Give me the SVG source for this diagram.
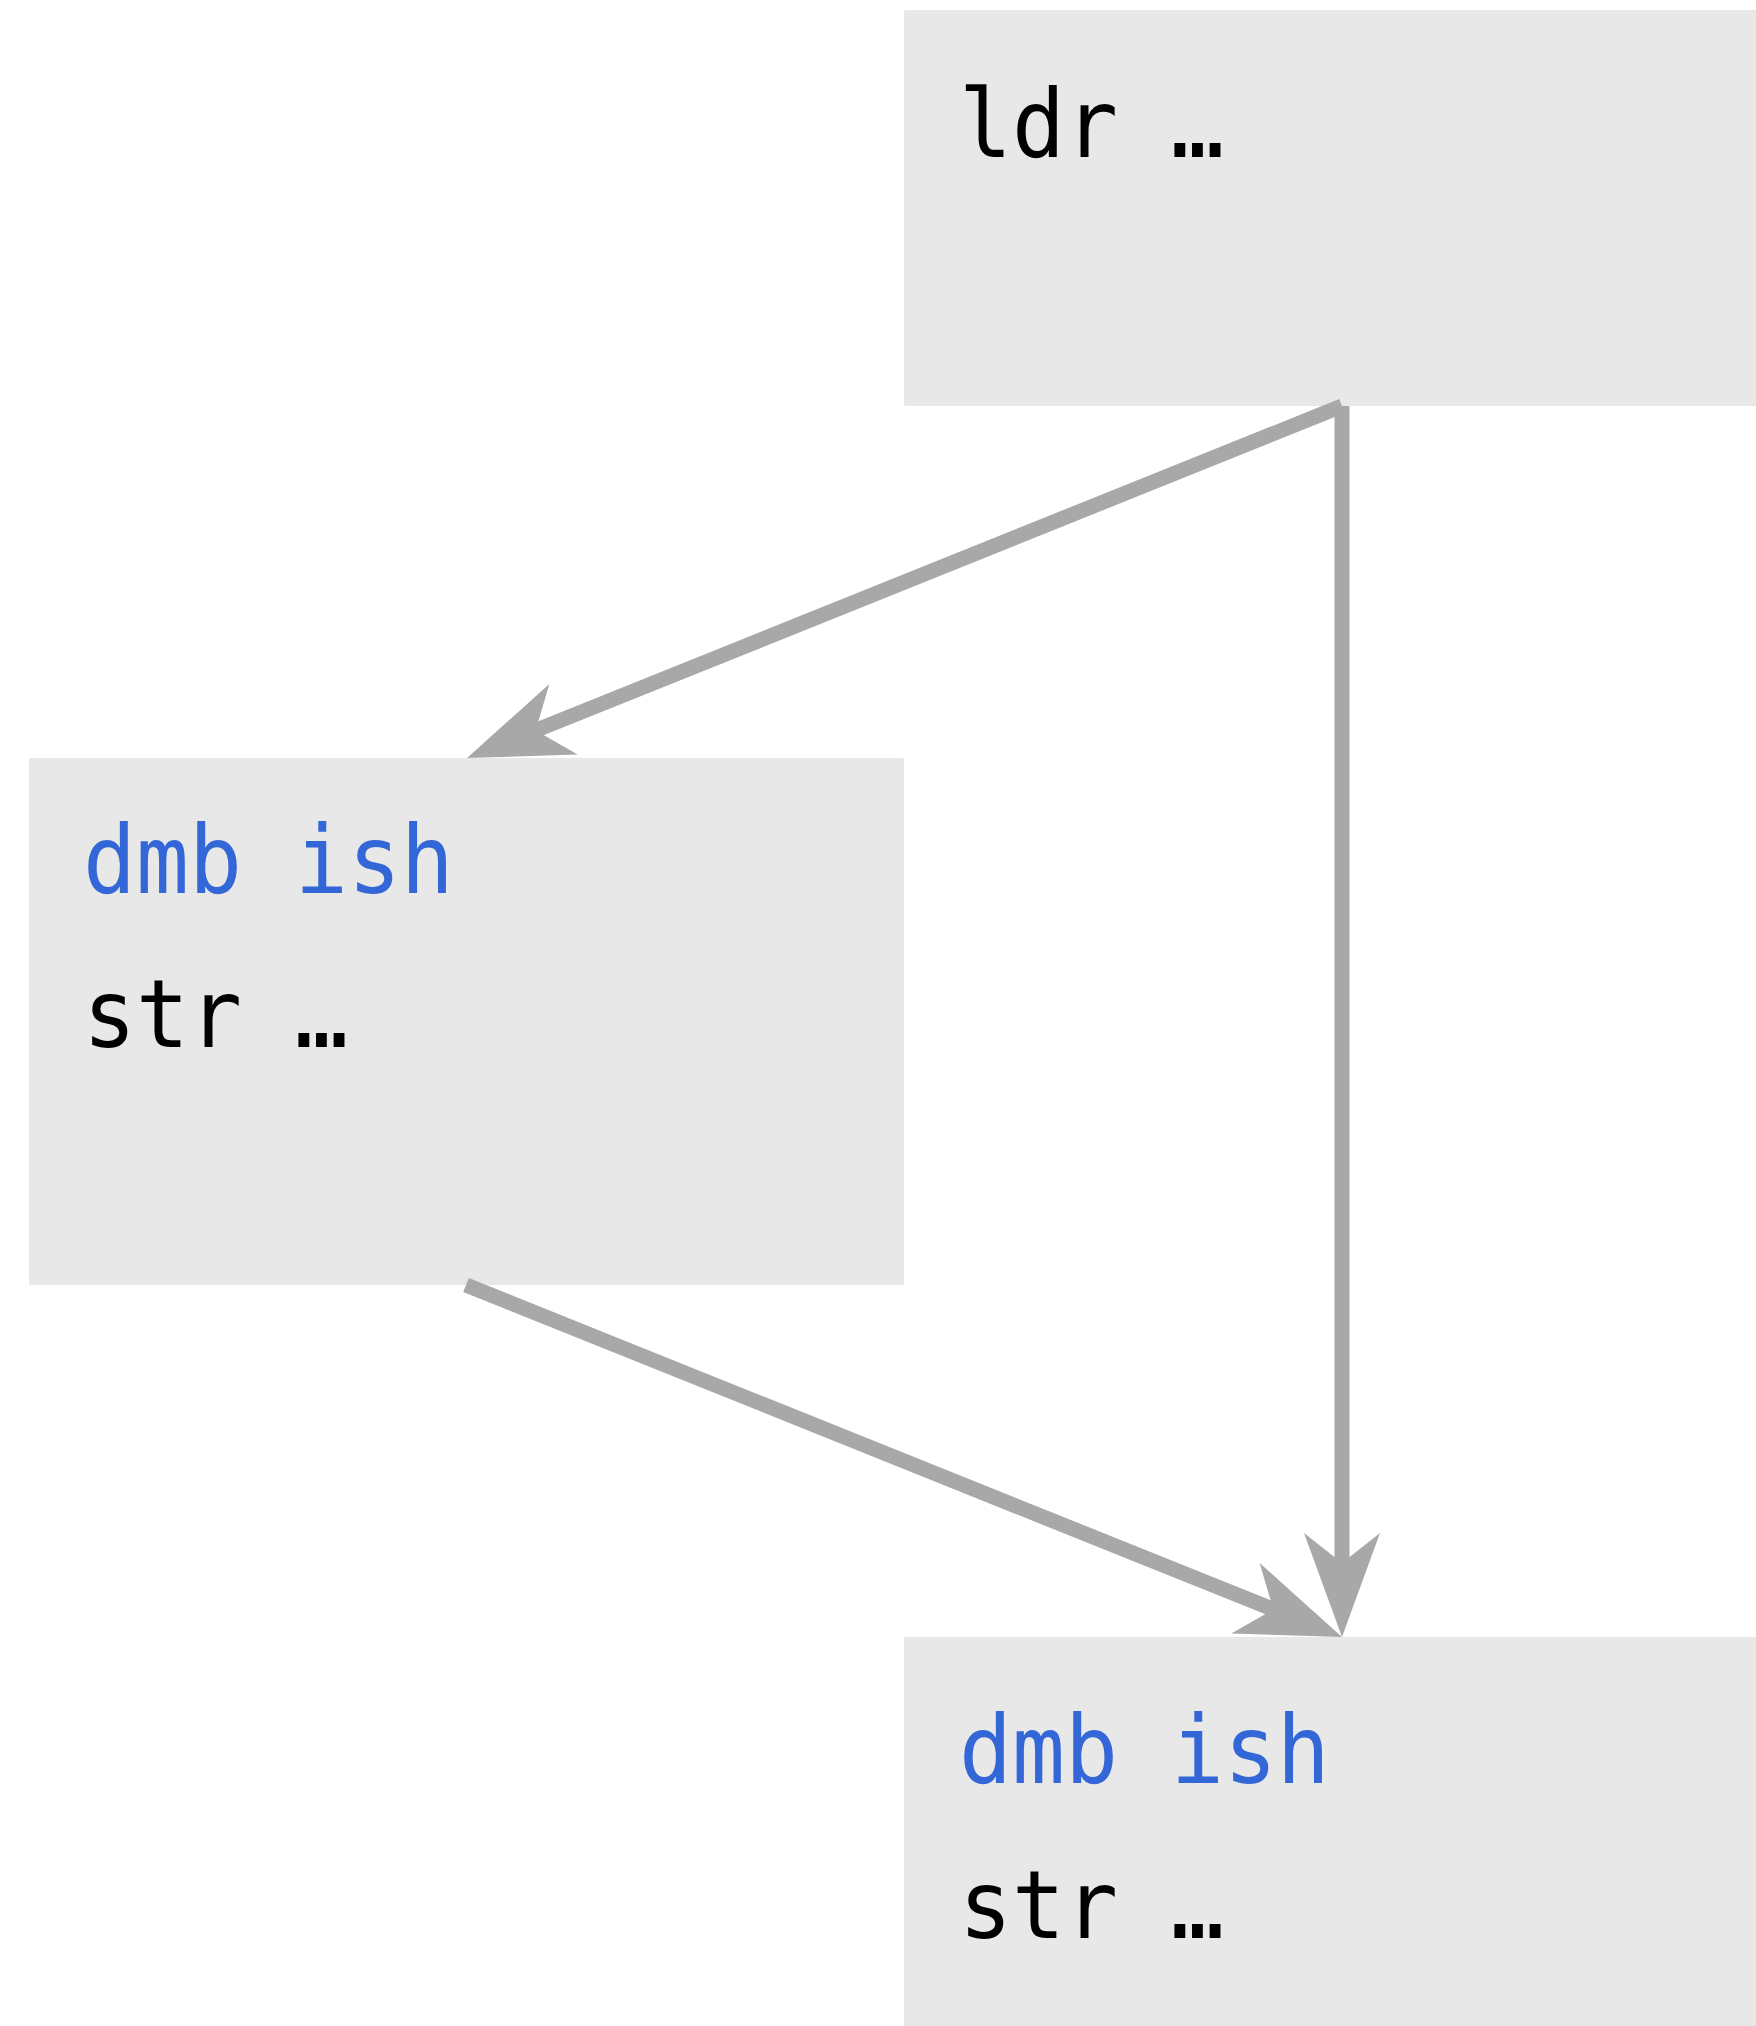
<svg xmlns="http://www.w3.org/2000/svg" width="1756" height="2026" viewBox="0 0 1756 2026">
  <style>
    .box { fill: #e8e8e8; }
    .code { font-family: "DejaVu Sans Mono", "Liberation Mono", monospace; font-size: 88px; fill: #000; }
    .kw { fill: #3366d6; }
    .edge { fill: none; stroke: #a8a8a8; stroke-width: 15; }
  </style>
  <defs>
    <!-- placed at the line end (the notch); the tip sits 74px ahead -->
    <marker id="arrow" markerUnits="userSpaceOnUse" markerWidth="200" markerHeight="200" refX="0" refY="0" orient="auto" style="overflow:visible">
      <path d="M74,0 L-30,-38 L0,0 L-30,38 Z" fill="#a8a8a8"/>
    </marker>
  </defs>
  <rect width="1756" height="2026" fill="#ffffff"/>

  <g id="node-load">
    <rect class="box" x="904" y="10" width="862" height="396" rx="2"/>
    <text class="code" transform="translate(959,157) scale(1,1.07)">ldr …</text>
  </g>

  <g id="node-barrier-left">
    <rect class="box" x="29" y="758" width="875" height="527" rx="2"/>
    <text class="code kw" transform="translate(83,893) scale(1,1.07)">dmb ish</text>
    <text class="code" transform="translate(83,1047) scale(1,1.07)">str …</text>
  </g>

  <g id="node-barrier-bottom">
    <rect class="box" x="904" y="1637" width="862" height="400" rx="2"/>
    <text class="code kw" transform="translate(959,1783) scale(1,1.07)">dmb ish</text>
    <text class="code" transform="translate(959,1938) scale(1,1.07)">str …</text>
  </g>

  <g id="connectors">
    <path class="edge" d="M1342,406 L535.7,730.4" marker-end="url(#arrow)"/>
    <path class="edge" d="M1342,406 L1342,1563" marker-end="url(#arrow)"/>
    <path class="edge" d="M466,1285 L1273.3,1609.4" marker-end="url(#arrow)"/>
  </g>
</svg>
